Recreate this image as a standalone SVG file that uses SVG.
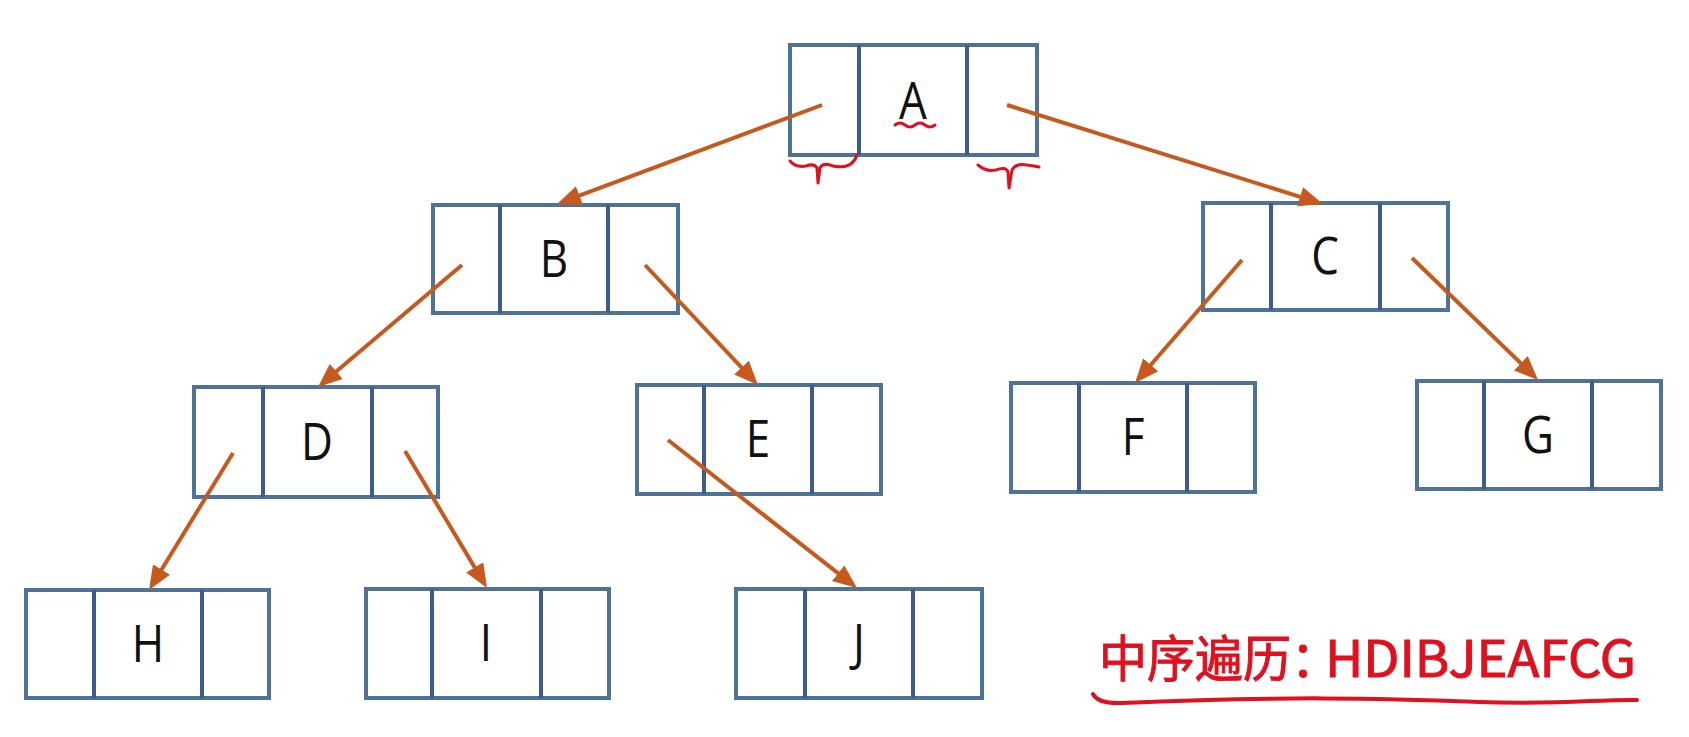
<svg xmlns="http://www.w3.org/2000/svg" width="1689" height="737" viewBox="0 0 1689 737">
<style>
.box{fill:#ffffff;stroke:#4e7399;stroke-width:4}
.div{stroke:#3d5b8c;stroke-width:4}
.lbl{font-family:"Open Sans","Liberation Sans",sans-serif;font-size:44px;fill:#111111;text-anchor:middle}
.arr{stroke:#c65a1e;stroke-width:4;fill:none;marker-end:url(#ah)}
.red{stroke:#e0101e;stroke-width:3;fill:none;stroke-linecap:round;stroke-linejoin:round}
.rt{font-family:"Noto Sans CJK SC","Noto Sans",sans-serif;font-size:48px;fill:#e0101e;stroke:#e0101e;stroke-width:0.9}
</style>
<defs>
<marker id="ah" viewBox="0 0 24 20" refX="16" refY="10" markerWidth="24" markerHeight="20" markerUnits="userSpaceOnUse" orient="auto">
<path d="M0,0 L24,10 L0,20 Z" fill="#c65a1e"/>
</marker>
</defs>
<rect width="1689" height="737" fill="#ffffff"/>
<g id="nodeA"><rect class="box" x="790" y="45" width="247" height="110"/><line class="div" x1="859" y1="45" x2="859" y2="155"/><line class="div" x1="967" y1="45" x2="967" y2="155"/><text class="lbl" transform="translate(913,119) scale(1,1.15)">A</text></g>
<g id="nodeB"><rect class="box" x="433" y="205" width="245" height="108"/><line class="div" x1="500" y1="205" x2="500" y2="313"/><line class="div" x1="608" y1="205" x2="608" y2="313"/><text class="lbl" transform="translate(554,277) scale(1,1.15)">B</text></g>
<g id="nodeC"><rect class="box" x="1203" y="203" width="245" height="107"/><line class="div" x1="1271" y1="203" x2="1271" y2="310"/><line class="div" x1="1380" y1="203" x2="1380" y2="310"/><text class="lbl" transform="translate(1325,274) scale(1,1.15)">C</text></g>
<g id="nodeD"><rect class="box" x="194" y="387" width="244" height="110"/><line class="div" x1="263" y1="387" x2="263" y2="497"/><line class="div" x1="372" y1="387" x2="372" y2="497"/><text class="lbl" transform="translate(317,460) scale(1,1.15)">D</text></g>
<g id="nodeE"><rect class="box" x="637" y="385" width="244" height="109"/><line class="div" x1="704" y1="385" x2="704" y2="494"/><line class="div" x1="812" y1="385" x2="812" y2="494"/><text class="lbl" transform="translate(758,457) scale(1,1.15)">E</text></g>
<g id="nodeF"><rect class="box" x="1011" y="383" width="244" height="109"/><line class="div" x1="1079" y1="383" x2="1079" y2="492"/><line class="div" x1="1187" y1="383" x2="1187" y2="492"/><text class="lbl" transform="translate(1133,455) scale(1,1.15)">F</text></g>
<g id="nodeG"><rect class="box" x="1417" y="381" width="244" height="108"/><line class="div" x1="1484" y1="381" x2="1484" y2="489"/><line class="div" x1="1592" y1="381" x2="1592" y2="489"/><text class="lbl" transform="translate(1538,453) scale(1,1.15)">G</text></g>
<g id="nodeH"><rect class="box" x="26" y="590" width="243" height="108"/><line class="div" x1="94" y1="590" x2="94" y2="698"/><line class="div" x1="202" y1="590" x2="202" y2="698"/><text class="lbl" transform="translate(148,662) scale(1,1.15)">H</text></g>
<g id="nodeI"><rect class="box" x="366" y="589" width="243" height="109"/><line class="div" x1="432" y1="589" x2="432" y2="698"/><line class="div" x1="541" y1="589" x2="541" y2="698"/><text class="lbl" transform="translate(486,661) scale(1,1.15)">I</text></g>
<g id="nodeJ"><rect class="box" x="736" y="589" width="246" height="109"/><line class="div" x1="805" y1="589" x2="805" y2="698"/><line class="div" x1="913" y1="589" x2="913" y2="698"/><text class="lbl" transform="translate(859,661) scale(1,1.15)">J</text></g>
<g id="connectors">
<line class="arr" x1="822" y1="105" x2="564.5" y2="201.2"/>
<line class="arr" x1="1007" y1="105" x2="1315.4" y2="201.6"/>
<line class="arr" x1="462" y1="265" x2="324.1" y2="381.8"/>
<line class="arr" x1="645" y1="265" x2="752.5" y2="379.2"/>
<line class="arr" x1="1242" y1="260" x2="1140.2" y2="377"/>
<line class="arr" x1="1412" y1="258" x2="1532.3" y2="374.4"/>
<line class="arr" x1="233" y1="453" x2="153.2" y2="583.2"/>
<line class="arr" x1="405" y1="451" x2="482.9" y2="581.1"/>
<line class="arr" x1="668" y1="440" x2="850.7" y2="583.1"/>
</g>
<g id="annotations">
<path class="red" d="M895,125 q5,-4 10,0 t10,0 t10,0 t10,0"/>
<path class="red" d="M790,161 Q796,168 806,166 Q814,163 817,168 L818,183 L820,168 Q823,162 833,166 Q852,170 857,155"/>
<path class="red" d="M978,165 Q986,172 996,170 Q1006,166 1008,172 L1009,188 L1012,170 Q1016,163 1027,165 Q1034,166 1039,167"/>
<text class="rt" transform="translate(1099,677) scale(1,1.04)">中序遍历：<tspan x="226" textLength="311" lengthAdjust="spacingAndGlyphs">HDIBJEAFCG</tspan></text>
<path d="M1093,694 Q1098,704 1122,703 C1280,696 1380,698 1480,702 C1560,705 1600,699 1637,700" stroke="#e0101e" stroke-width="4" fill="none" stroke-linecap="round"/>
</g>
</svg>
